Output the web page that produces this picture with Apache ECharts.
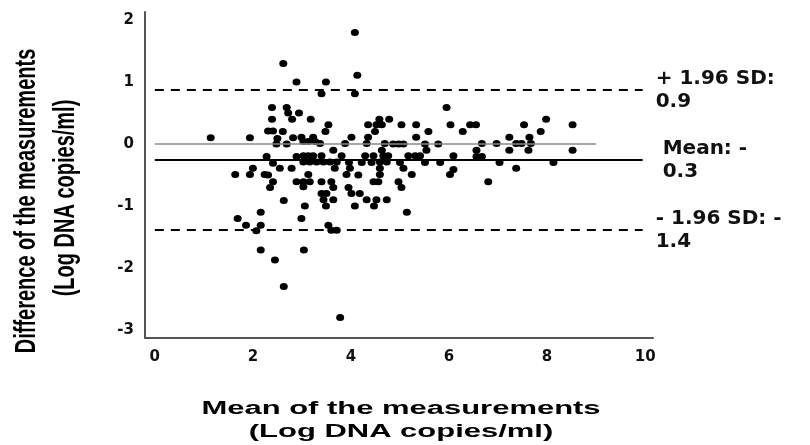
<!DOCTYPE html>
<html>
<head>
<meta charset="utf-8">
<script src="https://cdn.jsdelivr.net/npm/echarts@6/dist/echarts.min.js"></script>
<style>html,body{margin:0;padding:0;background:#fff;}#c{width:810px;height:445px;}</style>
</head>
<body>
<div id="c"></div>
<script>
// Mean of the two measurements (x) and their difference (y), one entry per sample
const meanVals = [
  2.62,2.89,2.39,2.69,2.72,2.94,2.39,2.80,2.31,2.41,2.61,1.14,1.94,2.50,2.48,2.69,2.82,3.18,2.99,3.23,
  4.08,4.13,3.49,3.40,4.08,5.95,3.54,3.48,4.58,4.78,4.35,4.52,4.63,4.49,4.35,4.01,5.03,5.33,5.33,5.58,6.03,6.28,6.43,6.55,
  3.03,3.13,3.27,3.37,3.88,4.32,4.69,4.86,4.97,5.07,5.51,5.78,
  3.64,4.63,5.54,6.56,
  3.03,3.13,3.23,3.40,3.81,4.29,4.46,4.66,4.76,5.17,5.31,5.41,6.09,
  3.03,3.16,3.30,3.44,3.57,3.71,3.96,4.22,4.42,4.59,4.73,5.00,5.51,5.82,
  6.09,6.02,
  3.67,3.98,4.59,5.07,
  3.13,3.91,4.15,4.59,5.24,
  3.03,3.16,3.40,3.60,4.46,4.56,4.97,
  3.03,3.64,3.95,5.03,
  3.40,3.50,4.01,4.18,
  3.44,3.64,4.32,4.52,4.73,
  3.06,3.49,4.08,4.47,5.14,2.99,
  3.54,3.60,3.71,3.04,
  2.28,2.89,2.41,2.55,2.79,2.00,1.64,1.94,2.24,2.31,2.41,2.35,2.89,2.63,2.16,1.69,1.86,2.16,2.07,2.16,2.45,2.63,3.78,
  6.67,6.67,6.97,7.03,6.80,7.23,7.23,7.37,7.48,7.37,7.53,7.64,7.67,7.62,7.87,7.98,8.13,8.52,8.52,6.56
];
const diffVals = [
  1.30,1.00,0.59,0.59,0.50,0.50,0.40,0.40,0.21,0.21,0.20,0.10,0.10,0.09,0.00,0.00,0.10,0.40,0.11,0.11,
  1.80,1.11,1.00,0.81,0.81,0.59,0.31,0.20,0.40,0.40,0.31,0.31,0.31,0.20,0.11,0.11,0.31,0.31,0.11,0.20,0.31,0.20,0.31,0.31,
  0.04,0.04,0.04,0.01,0.01,0.01,0.01,0.00,0.00,0.00,0.00,0.00,
  -0.10,-0.10,-0.10,-0.10,
  -0.19,-0.19,-0.19,-0.19,-0.19,-0.19,-0.19,-0.19,-0.19,-0.19,-0.19,-0.19,-0.19,
  -0.29,-0.29,-0.29,-0.29,-0.29,-0.29,-0.30,-0.30,-0.30,-0.29,-0.29,-0.30,-0.30,-0.30,
  -0.41,-0.49,
  -0.39,-0.39,-0.39,-0.39,
  -0.49,-0.49,-0.50,-0.49,-0.49,
  -0.61,-0.61,-0.61,-0.61,-0.61,-0.61,-0.61,
  -0.69,-0.70,-0.70,-0.70,
  -0.80,-0.80,-0.80,-0.80,
  -0.90,-0.90,-0.90,-0.90,-0.90,
  -1.00,-1.00,-1.00,-1.00,-1.10,-1.20,
  -1.31,-1.39,-1.39,-1.71,
  -0.20,-0.20,-0.31,-0.39,-0.39,-0.39,-0.49,-0.49,-0.49,-0.50,-0.61,-0.70,-0.61,-0.91,-1.10,-1.20,-1.31,-1.31,-1.40,-1.71,-1.87,-2.30,-2.80,
  0.01,-0.20,0.01,-0.30,-0.61,0.11,-0.10,0.01,0.01,-0.39,0.31,0.11,0.01,-0.10,0.20,0.40,-0.30,0.31,-0.10,-0.20
];
// Agreement lines: upper limit, mean difference, lower limit
const limitValues = [0.87, -0.26, -1.39];
const limitLabels = ['+ 1.96 SD:\n0.9', ' Mean: -\n 0.3', '- 1.96 SD: -\n1.4'];
const limitDashed = [true, false, true];
const limitStart = 0, limitEnd = 9.95, zeroEnd = 9;
const xTicks = [0, 2, 4, 6, 8, 10];
const yTicks = [-3, -2, -1, 0, 1, 2];
const xTitleLines = ['Mean of the measurements', '(Log DNA copies/ml)'];
const yTitleLines = ['Difference of the measurements', '(Log DNA copies/ml)'];

const points = meanVals.map((m, i) => [m, diffVals[i]]);
const bold = {fontFamily: 'DejaVu Sans', fontWeight: 'bold', color: '#111'};

const lines = limitValues.map((v, i) => {
  const style = {color: '#000', width: 2, type: limitDashed[i] ? [9, 7] : 'solid'};
  const label = {show: true, position: 'end', distance: 13, formatter: limitLabels[i],
    fontFamily: 'DejaVu Sans', fontWeight: 'bold', fontSize: 20, lineHeight: 23, color: '#111',
    align: 'left', padding: [23, 0, 0, 0]};
  return [{coord: [limitStart, v], lineStyle: style, label: label},
          {coord: [limitEnd, v], lineStyle: style, label: label}];
});
const zeroStyle = {color: '#8a8a8a', width: 1.5, type: 'solid'};
lines.push([{coord: [limitStart, 0], lineStyle: zeroStyle, label: {show: false}},
            {coord: [zeroEnd, 0], lineStyle: zeroStyle, label: {show: false}}]);

const titleFont = 'bold 20px "Liberation Sans", Arial, sans-serif';
const xTitleFont = 'bold 18px "Liberation Sans", Arial, sans-serif';
const graphics = [
  {type: 'text', x: 27, y: 201, rotation: Math.PI / 2, scaleY: 1.5, silent: true,
   style: {text: yTitleLines[0], font: titleFont, fill: '#000', align: 'center', verticalAlign: 'middle'}},
  {type: 'text', x: 66, y: 198, rotation: Math.PI / 2, scaleY: 1.5, silent: true,
   style: {text: yTitleLines[1], font: titleFont, fill: '#000', align: 'center', verticalAlign: 'middle'}},
  {type: 'text', x: 401, y: 409, scaleX: 1.72, silent: true,
   style: {text: xTitleLines[0], font: xTitleFont, fill: '#000', align: 'center', verticalAlign: 'middle'}},
  {type: 'text', x: 401, y: 432, scaleX: 1.72, silent: true,
   style: {text: xTitleLines[1], font: xTitleFont, fill: '#000', align: 'center', verticalAlign: 'middle'}}
];

const chart = echarts.init(document.getElementById('c'), null, {renderer: 'canvas'});
chart.setOption({
  animation: false,
  backgroundColor: '#fff',
  grid: {left: 145, right: 157, top: 12, bottom: 107, containLabel: false, outerBoundsMode: 'none'},
  xAxis: {
    type: 'value', min: -0.2, max: 10.16,
    axisLine: {show: true, onZero: false, lineStyle: {color: '#555', width: 2}},
    axisTick: {show: false}, splitLine: {show: false},
    axisLabel: Object.assign({customValues: xTicks, fontSize: 15, margin: 12}, bold)
  },
  yAxis: {
    type: 'value', min: -3.13, max: 2.13,
    axisLine: {show: true, onZero: false, lineStyle: {color: '#555', width: 2}},
    axisTick: {show: false}, splitLine: {show: false},
    axisLabel: Object.assign({customValues: yTicks, fontSize: 15, margin: 11}, bold)
  },
  graphic: graphics,
  series: [{
    type: 'scatter',
    data: points,
    symbol: 'circle',
    symbolSize: [8, 7],
    itemStyle: {color: '#000', opacity: 1},
    silent: true,
    markLine: {silent: true, symbol: 'none', animation: false, data: lines}
  }]
});
</script>
</body>
</html>
